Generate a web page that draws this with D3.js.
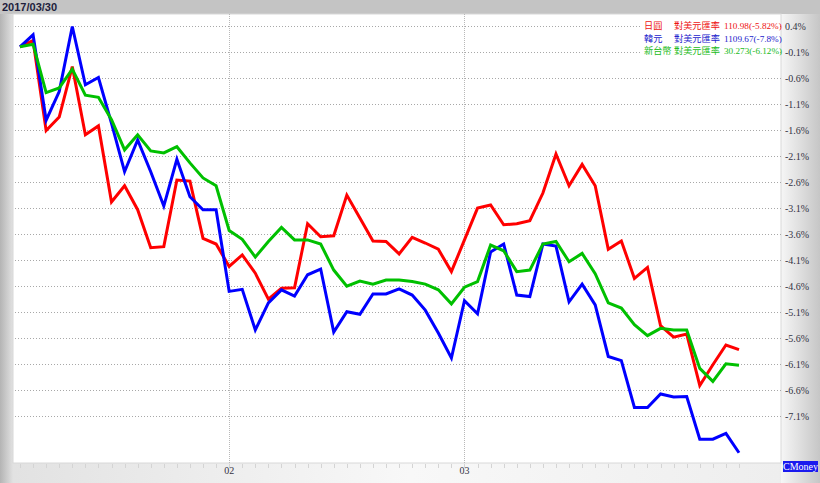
<!DOCTYPE html>
<html><head><meta charset="utf-8">
<script src="https://cdn.jsdelivr.net/npm/d3@7"></script>
<style>html,body{margin:0;padding:0;background:#fff;}svg{display:block;}</style>
</head><body>
<svg id="chart" width="820" height="483"></svg>
<script>
// ---- data ----
const titleDate = "2017/03/30";
const dates = [
 "01/03","01/04","01/05","01/06","01/09","01/10","01/11","01/12","01/13","01/16","01/17","01/18","01/19","01/20","01/23","01/24",
 "02/02","02/03","02/06","02/07","02/08","02/09","02/10","02/13","02/14","02/15","02/16","02/17","02/18","02/20","02/21","02/22","02/23","02/24",
 "03/01","03/02","03/03","03/06","03/07","03/08","03/09","03/10","03/13","03/14","03/15","03/16","03/17","03/20","03/21","03/22","03/23","03/24","03/27","03/28","03/29","03/30"];
const jpy = [0,0.12,-1.61,-1.35,-0.38,-1.69,-1.52,-2.98,-2.67,-3.13,-3.86,-3.84,-2.56,-2.58,-3.68,-3.79,
 -4.22,-4.00,-4.35,-4.85,-4.64,-4.63,-3.40,-3.65,-3.63,-2.85,-3.29,-3.73,-3.74,-3.98,-3.66,-3.77,-3.89,-4.32,
 -3.71,-3.10,-3.04,-3.42,-3.40,-3.34,-2.81,-2.06,-2.67,-2.26,-2.67,-3.89,-3.73,-4.45,-4.24,-5.36,-5.58,-5.52,-6.51,-6.11,-5.73,-5.82];
const krw = [0,0.23,-1.41,-0.86,0.39,-0.73,-0.59,-1.47,-2.40,-1.79,-2.40,-3.06,-2.16,-2.88,-3.13,-3.13,
 -4.70,-4.66,-5.44,-4.92,-4.67,-4.79,-4.38,-4.27,-5.48,-5.09,-5.14,-4.75,-4.75,-4.65,-4.77,-5.06,-5.50,-5.98,
 -4.88,-5.13,-3.94,-3.79,-4.77,-4.80,-3.79,-3.83,-4.90,-4.56,-4.96,-5.95,-6.03,-6.93,-6.93,-6.67,-6.73,-6.72,-7.54,-7.54,-7.43,-7.80];
const twd = [0,0.05,-0.88,-0.79,-0.43,-0.93,-0.97,-1.40,-1.98,-1.69,-2.00,-2.04,-1.92,-2.23,-2.52,-2.67,
 -3.53,-3.70,-4.04,-3.74,-3.47,-3.71,-3.71,-3.79,-4.29,-4.60,-4.50,-4.56,-4.48,-4.48,-4.51,-4.56,-4.67,-4.94,
 -4.62,-4.51,-3.81,-3.92,-4.32,-4.29,-3.79,-3.74,-4.13,-3.97,-4.36,-4.92,-5.02,-5.34,-5.55,-5.41,-5.44,-5.44,-6.18,-6.43,-6.09,-6.12];
const seriesNames = ["日圓","韓元","新台幣"];
const seriesSuffix = "對美元匯率";
const seriesValueText = ["110.98(-5.82%)","1109.67(-7.8%)","30.273(-6.12%)"];
const seriesColors = ["#ff0000","#0000ff","#00c000"];
const legendColors = ["#ee1111","#2222cc","#22bb22"];
const yTicks = [0.4,-0.1,-0.6,-1.1,-1.6,-2.1,-2.6,-3.1,-3.6,-4.1,-4.6,-5.1,-5.6,-6.1,-6.6,-7.1];
const monthTicks = [{date:"02/02",label:"02"},{date:"03/01",label:"03"}];
const brand = "CMoney";

// ---- layout ----
const W = 820, H = 483;
const plot = {left:13, top:14, right:781, bottom:463};
const svg = d3.select("#chart");
const defs = svg.append("defs");
const g1 = defs.append("linearGradient").attr("id","bg").attr("x1","0").attr("x2","1").attr("y1","0").attr("y2","0");
[[0,"#b4b4b4"],[0.016,"#e2e2e2"],[0.5,"#f8f8f8"],[0.95,"#eeeeee"],[1,"#c8c8c8"]].forEach(s=>g1.append("stop").attr("offset",s[0]).attr("stop-color",s[1]));
svg.append("rect").attr("width",W).attr("height",H).attr("fill","url(#bg)");
const g2 = defs.append("linearGradient").attr("id","rp").attr("x1","0").attr("x2","1");
[[0,"#f6f6f6"],[1,"#c6c6c6"]].forEach(s=>g2.append("stop").attr("offset",s[0]).attr("stop-color",s[1]));
svg.append("rect").attr("x",plot.right).attr("y",plot.top).attr("width",W-plot.right).attr("height",H-plot.top).attr("fill","url(#rp)");
svg.append("rect").attr("x",0).attr("y",0).attr("width",W).attr("height",plot.top).attr("fill","#c4c4c4");
svg.append("text").attr("x",2).attr("y",11).attr("font-family","Liberation Sans, Arial, sans-serif")
  .attr("font-weight","bold").attr("font-size",11).attr("fill","#1e1e3c").text(titleDate);
svg.append("rect").attr("x",plot.left).attr("y",plot.top).attr("width",plot.right-plot.left).attr("height",plot.bottom-plot.top)
  .attr("fill","#ffffff").attr("stroke","#d8d8d8").attr("stroke-width",1);

const x = d3.scalePoint().domain(dates).range([20,739]);
const y = d3.scaleLinear().domain([-7.1,0.4]).range([416.3,26]);

svg.append("g").selectAll("line").data(yTicks).join("line")
  .attr("x1",plot.left+2).attr("x2",plot.right+2)
  .attr("y1",d=>Math.round(y(d))+0.5).attr("y2",d=>Math.round(y(d))+0.5)
  .attr("stroke","#a8a8a8").attr("stroke-width",1).attr("stroke-dasharray","1,2");
svg.append("g").selectAll("line").data(monthTicks).join("line")
  .attr("x1",d=>Math.round(x(d.date))+0.5).attr("x2",d=>Math.round(x(d.date))+0.5)
  .attr("y1",plot.top).attr("y2",plot.bottom)
  .attr("stroke","#b8b8b8").attr("stroke-width",1).attr("stroke-dasharray","1,1");
svg.append("g").selectAll("line").data(dates).join("line")
  .attr("x1",d=>Math.round(x(d))+0.5).attr("x2",d=>Math.round(x(d))+0.5)
  .attr("y1",plot.bottom+1).attr("y2",plot.bottom+5)
  .attr("stroke","#d4d4d4").attr("stroke-width",1);
svg.append("g").selectAll("text").data(monthTicks).join("text")
  .attr("x",d=>x(d.date)).attr("y",plot.bottom+11).attr("text-anchor","middle")
  .attr("font-family","Liberation Serif, serif").attr("font-size",10).attr("fill","#333344")
  .text(d=>d.label);
svg.append("g").selectAll("text").data(yTicks).join("text")
  .attr("x",785).attr("y",d=>y(d)+3.5)
  .attr("font-family","Liberation Serif, serif").attr("font-size",10).attr("fill","#333344")
  .text(d=>d.toFixed(1)+"%");

const line = d3.line().x((d,i)=>x(dates[i])).y(d=>y(d));
[jpy,krw,twd].forEach((s,k)=>{
  svg.append("path").datum(s).attr("d",line).attr("fill","none")
    .attr("stroke",seriesColors[k]).attr("stroke-width",3).attr("stroke-linejoin","miter");
});

const lg = svg.append("g");
lg.append("rect").attr("x",641).attr("y",18).attr("width",139).attr("height",37).attr("fill","#ffffff");
seriesNames.forEach((n,k)=>{
  const yy = 29 + k*12.5;
  lg.append("text").attr("x",644).attr("y",yy).attr("font-family","Noto Sans CJK TC, sans-serif")
    .attr("font-size",9.2).attr("fill",legendColors[k]).text(n);
  lg.append("text").attr("x",674).attr("y",yy).attr("font-family","Noto Sans CJK TC, sans-serif")
    .attr("font-size",9.2).attr("fill",legendColors[k]).text(seriesSuffix);
  lg.append("text").attr("x",724).attr("y",yy).attr("font-family","Liberation Serif, serif")
    .attr("font-size",9.2).attr("fill",legendColors[k]).text(seriesValueText[k]);
});

svg.append("rect").attr("x",783).attr("y",461).attr("width",35).attr("height",11).attr("fill","#1a1aee");
svg.append("text").attr("x",800.5).attr("y",470).attr("text-anchor","middle")
  .attr("font-family","Liberation Serif, serif").attr("font-size",10).attr("fill","#ffffff").text(brand);
</script>
</body></html>
